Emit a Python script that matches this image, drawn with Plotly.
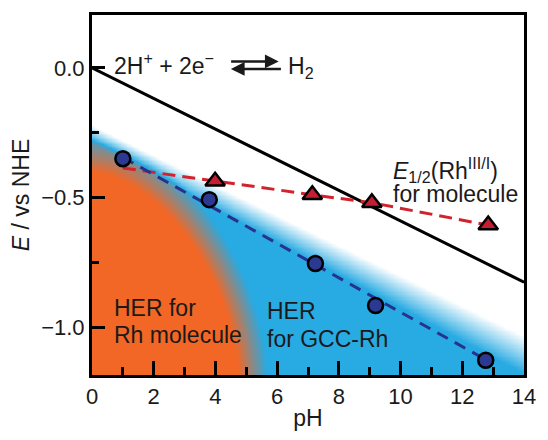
import numpy as np
import plotly.graph_objects as go

# ---- data ----
nernst_ph = [0.0, 14.0]
nernst_E = [0.0, -0.826]

gcc_ph = [1.0, 3.8, 7.24, 9.19, 12.76]
gcc_E = [-0.35, -0.508, -0.754, -0.916, -1.127]
gcc_fit_ph = [1.0, 12.76]
gcc_fit_E = [-0.345, -1.125]

mol_line_ph = [1.0, 3.99, 7.14, 9.07, 12.84]
mol_line_E = [-0.386, -0.437, -0.489, -0.52, -0.606]
mol_ph = [3.99, 7.14, 9.07, 12.84]
mol_E = [-0.437, -0.489, -0.52, -0.606]

x_range = [0, 14]
y_range = [-1.184, 0.204]

# ---- background shading (decorative regions) ----
gx = np.linspace(0, 14, 281)
gy = np.linspace(-1.2, 0.21, 283)
X, Y = np.meshgrid(gx, gy)
faint = -0.22 - 0.058 * X
solid = -0.29 - 0.0635 * X
b = np.clip((faint - Y) / (faint - solid), 0, 1)
a_ax, b_ax, p = 5.2, 0.86, 1.7
dy = np.clip(Y - y_range[0], 0, None)
r = ((X / a_ax) ** p + (dy / b_ax) ** p) ** (1 / p)
s = np.clip((r - 0.91) / (1.09 - 0.91), 0, 1)
o = 1 - s
t = 0.5 * b * (1 + o)
t = np.round(t, 3)

BLUE_BG = "rgb(40,170,226)"
ORANGE_BG = "rgb(242,103,38)"

fig = go.Figure()
fig.add_trace(go.Heatmap(
    x=gx, y=gy, z=t, zmin=0, zmax=1, zsmooth="best", showscale=False,
    colorscale=[[0, "rgb(255,255,255)"], [0.5, BLUE_BG], [1, ORANGE_BG]],
    hoverinfo="skip"))

fig.add_trace(go.Scatter(x=nernst_ph, y=nernst_E, mode="lines",
                         line=dict(color="black", width=3), hoverinfo="skip"))
fig.add_trace(go.Scatter(x=mol_line_ph, y=mol_line_E, mode="lines",
                         line=dict(color="rgb(210,35,45)", width=3, dash="13px,7px")))
fig.add_trace(go.Scatter(x=gcc_fit_ph, y=gcc_fit_E, mode="lines",
                         line=dict(color="rgb(40,50,140)", width=3, dash="12px,8px")))
fig.add_trace(go.Scatter(x=mol_ph, y=mol_E, mode="markers",
                         marker=dict(symbol="triangle-up", size=17, color="rgb(196,30,50)",
                                     line=dict(color="black", width=2.5))))
fig.add_trace(go.Scatter(x=gcc_ph, y=gcc_E, mode="markers",
                         marker=dict(symbol="circle", size=15, color="rgb(43,57,144)",
                                     line=dict(color="black", width=2.5))))

FONT = "Liberation Sans, Arial, sans-serif"
TXT = "#1a1a1a"
ann = []
ann.append(dict(x=0.65, y=0.016, xref="x", yref="y", xanchor="left", yanchor="middle",
                text="2H<sup>+</sup> + 2e<sup>−</sup>", showarrow=False,
                font=dict(size=23, color=TXT, family=FONT)))
ann.append(dict(x=6.3, y=0.0, xref="x", yref="y", xanchor="left", yanchor="middle",
                text="H<sub>2</sub>", showarrow=False,
                font=dict(size=23, color=TXT, family=FONT)))
ann.append(dict(x=6.05, y=0.025, ax=4.46, ay=0.025, xref="x", yref="y", axref="x", ayref="y",
                text="", showarrow=True, arrowhead=2, arrowsize=1.1, arrowwidth=2.5, arrowcolor=TXT))
ann.append(dict(x=4.5, y=-0.004, ax=6.17, ay=-0.004, xref="x", yref="y", axref="x", ayref="y",
                text="", showarrow=True, arrowhead=2, arrowsize=1.1, arrowwidth=2.5, arrowcolor=TXT))
ann.append(dict(x=9.68, y=-0.394, xref="x", yref="y", xanchor="left", yanchor="middle",
                text="<i>E</i><sub>1/2</sub>(Rh<sup>III/I</sup>)", showarrow=False,
                font=dict(size=23, color=TXT, family=FONT)))
ann.append(dict(x=9.68, y=-0.487, xref="x", yref="y", xanchor="left", yanchor="middle",
                text="for molecule", showarrow=False,
                font=dict(size=23, color=TXT, family=FONT)))
ann.append(dict(x=0.66, y=-0.925, xref="x", yref="y", xanchor="left", yanchor="middle",
                text="HER for", showarrow=False,
                font=dict(size=23, color=TXT, family=FONT)))
ann.append(dict(x=0.66, y=-1.031, xref="x", yref="y", xanchor="left", yanchor="middle",
                text="Rh molecule", showarrow=False,
                font=dict(size=23, color=TXT, family=FONT)))
ann.append(dict(x=5.6, y=-0.937, xref="x", yref="y", xanchor="left", yanchor="middle",
                text="HER", showarrow=False,
                font=dict(size=23, color=TXT, family=FONT)))
ann.append(dict(x=5.6, y=-1.044, xref="x", yref="y", xanchor="left", yanchor="middle",
                text="for GCC-Rh", showarrow=False,
                font=dict(size=23, color=TXT, family=FONT)))

fig.update_layout(
    width=548, height=440,
    margin=dict(l=92, r=14, t=14, b=56),
    paper_bgcolor="white", plot_bgcolor="white",
    showlegend=False,
    font=dict(family=FONT, size=22, color=TXT),
    annotations=ann,
    xaxis=dict(range=x_range, dtick=2, tick0=0, ticks="inside", ticklen=14, tickwidth=2.5,
               tickcolor="black", showgrid=False, zeroline=False,
               showline=True, linecolor="black", linewidth=3, mirror=True,
               minor=dict(dtick=1, ticks="inside", ticklen=8, tickwidth=2.5, tickcolor="black"),
               tickfont=dict(size=22, color=TXT),
               title=dict(text="pH", font=dict(size=23, color=TXT), standoff=2)),
    yaxis=dict(range=y_range, dtick=0.5, tick0=0, tickformat=".1f", ticks="inside", ticklen=13,
               tickwidth=2.5, tickcolor="black", showgrid=False, zeroline=False,
               showline=True, linecolor="black", linewidth=3, mirror=True,
               minor=dict(dtick=0.25, ticks="inside", ticklen=7, tickwidth=2.5, tickcolor="black"),
               tickfont=dict(size=22, color=TXT),
               title=dict(text="<i>E</i> / vs NHE", font=dict(size=23, color=TXT), standoff=6)),
)

fig.write_html("out.html")
